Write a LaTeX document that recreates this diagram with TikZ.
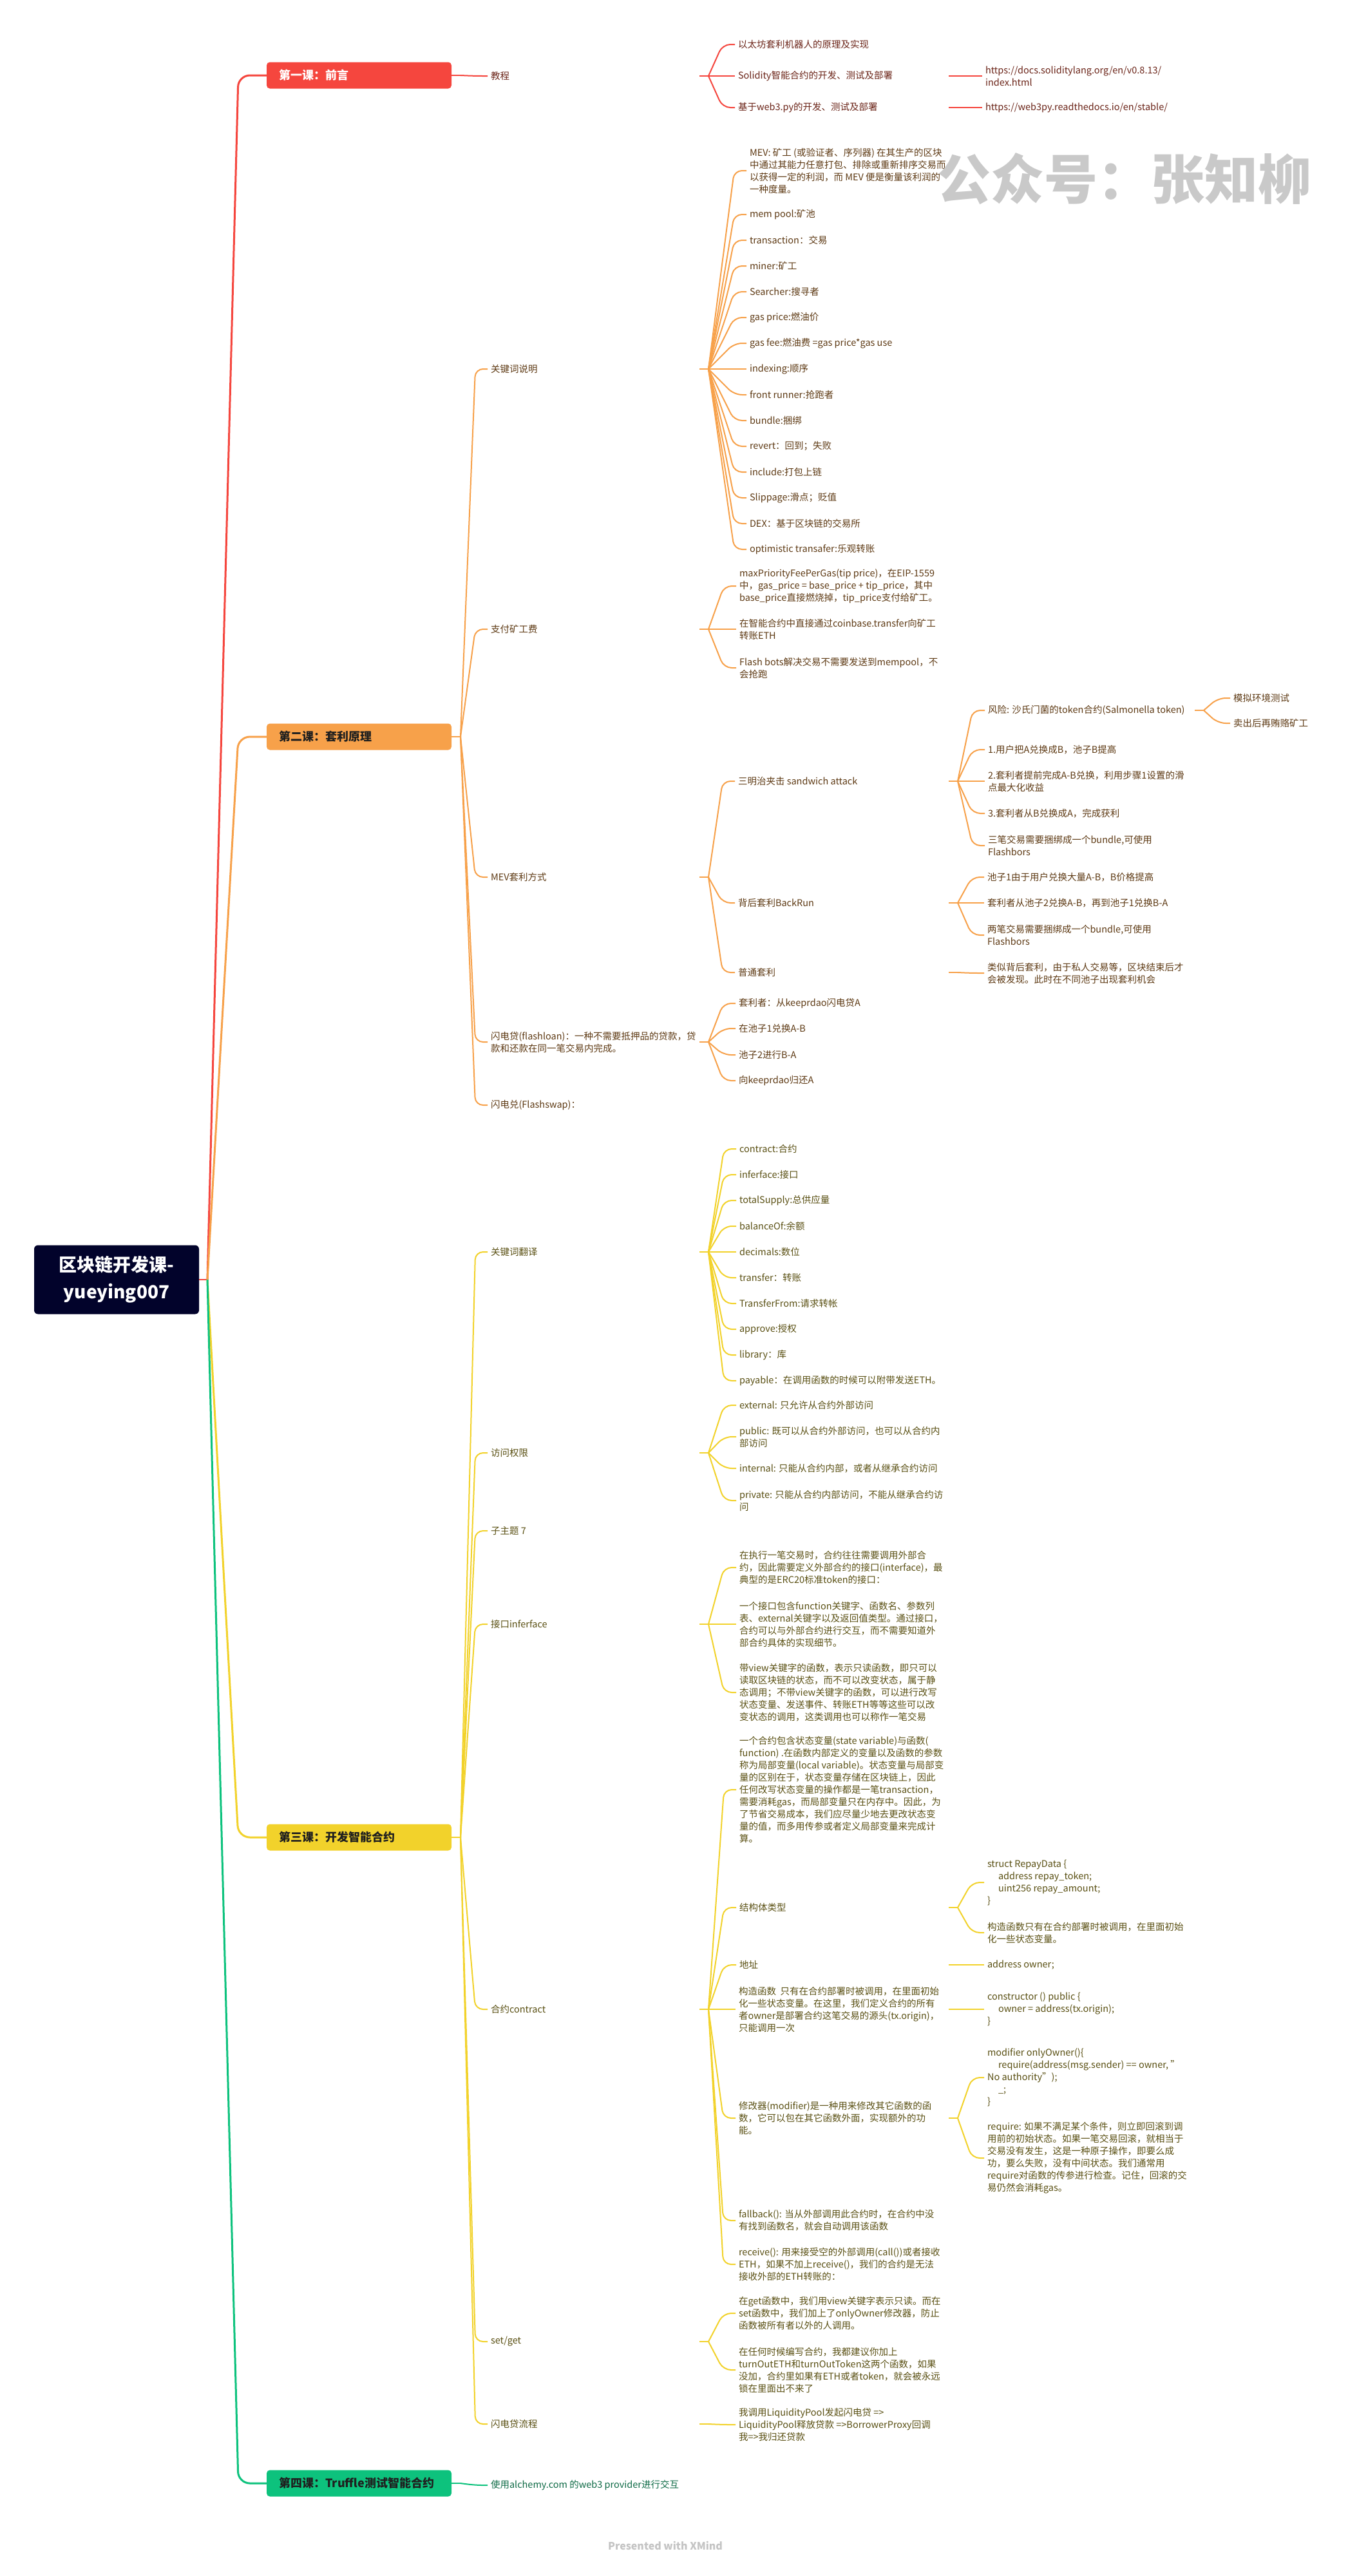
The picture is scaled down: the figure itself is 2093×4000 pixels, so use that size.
\documentclass[tikz,border=0pt]{standalone}
\usepackage{fontspec}
\setmainfont{Noto Sans CJK SC}
\usetikzlibrary{calc}
\definecolor{cred}{HTML}{F5463E}
\definecolor{corg}{HTML}{F7A14A}
\definecolor{cyel}{HTML}{F2D22B}
\definecolor{cgrn}{HTML}{0DC27D}
\definecolor{croot}{HTML}{02032B}
\definecolor{tred}{HTML}{6B2418}
\definecolor{torg}{HTML}{5E3A14}
\definecolor{tyel}{HTML}{5A5013}
\definecolor{tgrn}{HTML}{0E6A46}
\definecolor{wmgray}{HTML}{C9C9C9}
\definecolor{xmgray}{HTML}{C4C4C4}
\newcommand\mmstub[4]{\draw[#1] ([xshift=#3pt]#2.west) -- ([xshift=#4pt]#2.west) coordinate (#2B);}
\newcommand\mmlink[3]{\draw[#1] (#2B) -- ([xshift=-24pt]#3.west) -- ([xshift=-5pt]#3.west);}
\begin{document}
\begin{tikzpicture}[x=1pt,y=-1pt,
  every node/.style={inner sep=0pt,outer sep=0pt},
  txt/.style={anchor=west, align=left, font=\fontsize{14.5}{19}\selectfont},
  mainbox/.style={anchor=west, minimum width=287pt, minimum height=41pt, text width=249pt, inner xsep=19pt, align=left, rounded corners=5pt, font=\fontsize{18}{22}\selectfont\bfseries},
  cR/.style={draw=cred, line width=2pt, rounded corners=12pt},
  cO/.style={draw=corg, line width=2pt, rounded corners=12pt},
  cY/.style={draw=cyel, line width=2pt, rounded corners=12pt},
  cG/.style={draw=cgrn, line width=2pt, rounded corners=12pt},
  rootc/.style={line width=3pt, rounded corners=18pt}]
\useasboundingbox (0,0) rectangle (2093,4000);
\fill[white] (0,0) rectangle (2093,4000);

% root
\node[fill=croot, text=white, minimum width=256pt, minimum height=107pt, align=center, rounded corners=6pt, font=\fontsize{28}{42}\selectfont\bfseries] (root) at (181,1987) {区块链开发课-\\yueying007};

% main boxes
\node[mainbox, fill=cred, text=white] (m1) at (414,117) {第一课：前言};
\node[mainbox, fill=corg, text=black!88] (m2) at (414,1144) {第二课：套利原理};
\node[mainbox, fill=cyel, text=black!88] (m3) at (414,2853) {第三课：开发智能合约};
\node[mainbox, fill=cgrn, text=black!88] (m4) at (414,3856) {第四课：Truffle测试智能合约};

% ---------- red ----------
\begin{scope}[every node/.append style={text=tred}]
\node[txt] (jc) at (762,118) {教程};
\node[txt] (r1) at (1146,69) {以太坊套利机器人的原理及实现};
\node[txt] (r2) at (1146,118) {Solidity智能合约的开发、测试及部署};
\node[txt] (r2a) at (1530,118) {https://docs.soliditylang.org/en/v0.8.13/\\index.html};
\node[txt] (r3) at (1146,167) {基于web3.py的开发、测试及部署};
\node[txt] (r3a) at (1530,167) {https://web3py.readthedocs.io/en/stable/};
\end{scope}

% ---------- orange ----------
\begin{scope}[every node/.append style={text=torg}]
\node[txt] (kw) at (762,573) {关键词说明};
\node[txt] (k1) at (1164,265) {MEV: 矿工 (或验证者、序列器) 在其生产的区块\\中通过其能力任意打包、排除或重新排序交易而\\以获得一定的利润，而 MEV 便是衡量该利润的\\一种度量。};
\node[txt] (k2) at (1164,333) {mem pool:矿池};
\node[txt] (k3) at (1164,373) {transaction：交易};
\node[txt] (k4) at (1164,413) {miner:矿工};
\node[txt] (k5) at (1164,453) {Searcher:搜寻者};
\node[txt] (k6) at (1164,493) {gas price:燃油价};
\node[txt] (k7) at (1164,533) {gas fee:燃油费 =gas price*gas use};
\node[txt] (k8) at (1164,573) {indexing:顺序};
\node[txt] (k9) at (1164,613) {front runner:抢跑者};
\node[txt] (k10) at (1164,653) {bundle:捆绑};
\node[txt] (k11) at (1164,693) {revert：回到；失败};
\node[txt] (k12) at (1164,733) {include:打包上链};
\node[txt] (k13) at (1164,773) {Slippage:滑点；贬值};
\node[txt] (k14) at (1164,813) {DEX：基于区块链的交易所};
\node[txt] (k15) at (1164,853) {optimistic transafer:乐观转账};

\node[txt] (zf) at (762,977) {支付矿工费};
\node[txt] (z1) at (1148,910) {maxPriorityFeePerGas(tip price)，在EIP-1559\\中，gas\_price = base\_price + tip\_price，其中\\base\_price直接燃烧掉，tip\_price支付给矿工。};
\node[txt] (z2) at (1148,977) {在智能合约中直接通过coinbase.transfer向矿工\\转账ETH};
\node[txt] (z3) at (1148,1037) {Flash bots解决交易不需要发送到mempool，不\\会抢跑};

\node[txt] (mv) at (762,1362) {MEV套利方式};
\node[txt] (sw) at (1146,1213) {三明治夹击 sandwich attack};
\node[txt] (s1) at (1534,1103) {风险: 沙氏门菌的token合约(Salmonella token)};
\node[txt] (s1a) at (1915,1084) {模拟环境测试};
\node[txt] (s1b) at (1915,1123) {卖出后再贿赂矿工};
\node[txt] (s2) at (1534,1164) {1.用户把A兑换成B，池子B提高};
\node[txt] (s3) at (1534,1213) {2.套利者提前完成A-B兑换，利用步骤1设置的滑\\点最大化收益};
\node[txt] (s4) at (1534,1263) {3.套利者从B兑换成A，完成获利};
\node[txt] (s5) at (1534,1313) {三笔交易需要捆绑成一个bundle,可使用\\Flashbors};
\node[txt] (br) at (1146,1402) {背后套利BackRun};
\node[txt] (b1) at (1533,1362) {池子1由于用户兑换大量A-B，B价格提高};
\node[txt] (b2) at (1533,1402) {套利者从池子2兑换A-B，再到池子1兑换B-A};
\node[txt] (b3) at (1533,1452) {两笔交易需要捆绑成一个bundle,可使用\\Flashbors};
\node[txt] (pt) at (1146,1510) {普通套利};
\node[txt] (p1) at (1533,1511) {类似背后套利，由于私人交易等，区块结束后才\\会被发现。此时在不同池子出现套利机会};

\node[txt] (fl) at (762,1618) {闪电贷(flashloan)：一种不需要抵押品的贷款，贷\\款和还款在同一笔交易内完成。};
\node[txt] (f1) at (1147,1558) {套利者：从keeprdao闪电贷A};
\node[txt] (f2) at (1147,1597) {在池子1兑换A-B};
\node[txt] (f3) at (1147,1638) {池子2进行B-A};
\node[txt] (f4) at (1147,1678) {向keeprdao归还A};
\node[txt] (fs) at (762,1716) {闪电兑(Flashswap)：};
\end{scope}

% ---------- yellow ----------
\begin{scope}[every node/.append style={text=tyel}]
\node[txt] (kt) at (762,1944) {关键词翻译};
\node[txt] (t1) at (1148,1784) {contract:合约};
\node[txt] (t2) at (1148,1824) {inferface:接口};
\node[txt] (t3) at (1148,1864) {totalSupply:总供应量};
\node[txt] (t4) at (1148,1904) {balanceOf:余额};
\node[txt] (t5) at (1148,1944) {decimals:数位};
\node[txt] (t6) at (1148,1984) {transfer：转账};
\node[txt] (t7) at (1148,2024) {TransferFrom:请求转帐};
\node[txt] (t8) at (1148,2064) {approve:授权};
\node[txt] (t9) at (1148,2104) {library：库};
\node[txt] (t10) at (1148,2144) {payable：在调用函数的时候可以附带发送ETH。};

\node[txt] (fw) at (762,2256) {访问权限};
\node[txt] (a1) at (1148,2182) {external: 只允许从合约外部访问};
\node[txt] (a2) at (1148,2231) {public: 既可以从合约外部访问，也可以从合约内\\部访问};
\node[txt] (a3) at (1148,2280) {internal: 只能从合约内部，或者从继承合约访问};
\node[txt] (a4) at (1148,2330) {private: 只能从合约内部访问，不能从继承合约访\\问};

\node[txt] (zt) at (762,2377) {子主题 7};

\node[txt] (jk) at (762,2522) {接口inferface};
\node[txt] (i1) at (1148,2434) {在执行一笔交易时，合约往往需要调用外部合\\约，因此需要定义外部合约的接口(interface)，最\\典型的是ERC20标准token的接口：};
\node[txt] (i2) at (1148,2522) {一个接口包含function关键字、函数名、参数列\\表、external关键字以及返回值类型。通过接口，\\合约可以与外部合约进行交互，而不需要知道外\\部合约具体的实现细节。};
\node[txt] (i3) at (1148,2628) {带view关键字的函数，表示只读函数，即只可以\\读取区块链的状态，而不可以改变状态，属于静\\态调用；不带view关键字的函数，可以进行改写\\状态变量、发送事件、转账ETH等等这些可以改\\变状态的调用，这类调用也可以称作一笔交易};

\node[txt] (ht) at (762,3120) {合约contract};
\node[txt] (h1) at (1148,2779) {一个合约包含状态变量(state variable)与函数(\\function) .在函数内部定义的变量以及函数的参数\\称为局部变量(local variable)。状态变量与局部变\\量的区别在于，状态变量存储在区块链上，因此\\任何改写状态变量的操作都是一笔transaction，\\需要消耗gas，而局部变量只在内存中。因此，为\\了节省交易成本，我们应尽量少地去更改状态变\\量的值，而多用传参或者定义局部变量来完成计\\算。};
\node[txt] (h2) at (1148,2962) {结构体类型};
\node[txt] (h2a) at (1533,2923) {struct RepayData \{\\\hspace*{17pt}address repay\_token;\\\hspace*{17pt}uint256 repay\_amount;\\\}};
\node[txt] (h2b) at (1533,3001) {构造函数只有在合约部署时被调用，在里面初始\\化一些状态变量。};
\node[txt] (h3) at (1148,3051) {地址};
\node[txt] (h3a) at (1533,3051) {address owner;};
\node[txt] (h4) at (1147,3120) {构造函数 \ 只有在合约部署时被调用，在里面初始\\化一些状态变量。在这里，我们定义合约的所有\\者owner是部署合约这笔交易的源头(tx.origin)，\\只能调用一次};
\node[txt] (h4a) at (1533,3120) {constructor () public \{\\\hspace*{17pt}owner = address(tx.origin);\\\}};
\node[txt] (h5) at (1147,3289) {修改器(modifier)是一种用来修改其它函数的函\\数，它可以包在其它函数外面，实现额外的功\\能。};
\node[txt] (h5a) at (1533,3226) {modifier onlyOwner()\{\\\hspace*{17pt}require(address(msg.sender) == owner, "\\No authority");\\\hspace*{17pt}\_;\\\}};
\node[txt] (h5b) at (1533,3351) {require: 如果不满足某个条件，则立即回滚到调\\用前的初始状态。如果一笔交易回滚，就相当于\\交易没有发生，这是一种原子操作，即要么成\\功，要么失败，没有中间状态。我们通常用\\require对函数的传参进行检查。记住，回滚的交\\易仍然会消耗gas。};
\node[txt] (h6) at (1147,3448) {fallback(): 当从外部调用此合约时，在合约中没\\有找到函数名，就会自动调用该函数};
\node[txt] (h7) at (1147,3516) {receive(): 用来接受空的外部调用(call())或者接收\\ETH，如果不加上receive()，我们的合约是无法\\接收外部的ETH转账的：};

\node[txt] (sg) at (762,3636) {set/get};
\node[txt] (g1) at (1147,3592) {在get函数中，我们用view关键字表示只读。而在\\set函数中，我们加上了onlyOwner修改器，防止\\函数被所有者以外的人调用。};
\node[txt] (g2) at (1147,3680) {在任何时候编写合约，我都建议你加上\\turnOutETH和turnOutToken这两个函数，如果\\没加，合约里如果有ETH或者token，就会被永远\\锁在里面出不来了};

\node[txt] (sl) at (762,3764) {闪电贷流程};
\node[txt] (l1) at (1147,3765) {我调用LiquidityPool发起闪电贷 =>\\LiquidityPool释放贷款 =>BorrowerProxy回调\\我=>我归还贷款};
\end{scope}

% ---------- green ----------
\node[txt, text=tgrn] (al) at (762,3859) {使用alchemy.com 的web3 provider进行交互};

% ---------- connectors ----------
\draw[cred, line width=1.5pt] (root.east) -- ++(13pt,0) coordinate (rootB);
\draw[cred, rootc] (rootB) -- ([xshift=-44pt]m1.west) -- (m1.west);
\draw[corg, rootc] (rootB) -- ([xshift=-44pt]m2.west) -- (m2.west);
\draw[cyel, rootc] (rootB) -- ([xshift=-44pt]m3.west) -- (m3.west);
\draw[cgrn, rootc] (rootB) -- ([xshift=-44pt]m4.west) -- (m4.west);

\draw[cR] (m1.east) -- ++(14pt,0) coordinate (m1B);
\draw[cO] (m2.east) -- ++(14pt,0) coordinate (m2B);
\draw[cY] (m3.east) -- ++(14pt,0) coordinate (m3B);
\draw[cG] (m4.east) -- ++(14pt,0) coordinate (m4B);

% red
\mmlink{cR}{m1}{jc}
\mmstub{cR}{jc}{324}{338}
\mmlink{cR}{jc}{r1}\mmlink{cR}{jc}{r2}\mmlink{cR}{jc}{r3}
\mmstub{cR}{r2}{327}{341}\mmlink{cR}{r2}{r2a}
\mmstub{cR}{r3}{327}{341}\mmlink{cR}{r3}{r3a}

% orange
\mmlink{cO}{m2}{kw}\mmlink{cO}{m2}{zf}\mmlink{cO}{m2}{mv}\mmlink{cO}{m2}{fl}\mmlink{cO}{m2}{fs}
\mmstub{cO}{kw}{324}{338}
\foreach \k in {k1,k2,k3,k4,k5,k6,k7,k8,k9,k10,k11,k12,k13,k14,k15}{\mmlink{cO}{kw}{\k}}
\mmstub{cO}{zf}{324}{338}
\mmlink{cO}{zf}{z1}\mmlink{cO}{zf}{z2}\mmlink{cO}{zf}{z3}
\mmstub{cO}{mv}{324}{338}
\mmlink{cO}{mv}{sw}\mmlink{cO}{mv}{br}\mmlink{cO}{mv}{pt}
\mmstub{cO}{sw}{327}{341}
\mmlink{cO}{sw}{s1}\mmlink{cO}{sw}{s2}\mmlink{cO}{sw}{s3}\mmlink{cO}{sw}{s4}\mmlink{cO}{sw}{s5}
\mmstub{cO}{s1}{321}{335}
\mmlink{cO}{s1}{s1a}\mmlink{cO}{s1}{s1b}
\mmstub{cO}{br}{327}{341}
\mmlink{cO}{br}{b1}\mmlink{cO}{br}{b2}\mmlink{cO}{br}{b3}
\mmstub{cO}{pt}{327}{341}\mmlink{cO}{pt}{p1}
\mmstub{cO}{fl}{324}{338}
\mmlink{cO}{fl}{f1}\mmlink{cO}{fl}{f2}\mmlink{cO}{fl}{f3}\mmlink{cO}{fl}{f4}

% yellow
\foreach \k in {kt,fw,zt,jk,ht,sg,sl}{\mmlink{cY}{m3}{\k}}
\mmstub{cY}{kt}{324}{338}
\foreach \k in {t1,t2,t3,t4,t5,t6,t7,t8,t9,t10}{\mmlink{cY}{kt}{\k}}
\mmstub{cY}{fw}{324}{338}
\mmlink{cY}{fw}{a1}\mmlink{cY}{fw}{a2}\mmlink{cY}{fw}{a3}\mmlink{cY}{fw}{a4}
\mmstub{cY}{jk}{324}{338}
\mmlink{cY}{jk}{i1}\mmlink{cY}{jk}{i2}\mmlink{cY}{jk}{i3}
\mmstub{cY}{ht}{324}{338}
\foreach \k in {h1,h2,h3,h4,h5,h6,h7}{\mmlink{cY}{ht}{\k}}
\mmstub{cY}{h2}{325}{339}\mmlink{cY}{h2}{h2a}\mmlink{cY}{h2}{h2b}
\mmstub{cY}{h3}{325}{339}\mmlink{cY}{h3}{h3a}
\mmstub{cY}{h4}{326}{340}\mmlink{cY}{h4}{h4a}
\mmstub{cY}{h5}{326}{340}\mmlink{cY}{h5}{h5a}\mmlink{cY}{h5}{h5b}
\mmstub{cY}{sg}{324}{338}\mmlink{cY}{sg}{g1}\mmlink{cY}{sg}{g2}
\mmstub{cY}{sl}{324}{338}\mmlink{cY}{sl}{l1}

% green
\mmlink{cG}{m4}{al}

% watermark and footer
\node[anchor=west, text=wmgray, font=\fontsize{83}{90}\selectfont\bfseries] (wm) at (1455,278) {公众号：张知柳};
\node[anchor=west, text=xmgray, font=\fontsize{16}{18}\selectfont\bfseries] (xm) at (944,3953) {Presented with XMind};
\end{tikzpicture}
\end{document}
